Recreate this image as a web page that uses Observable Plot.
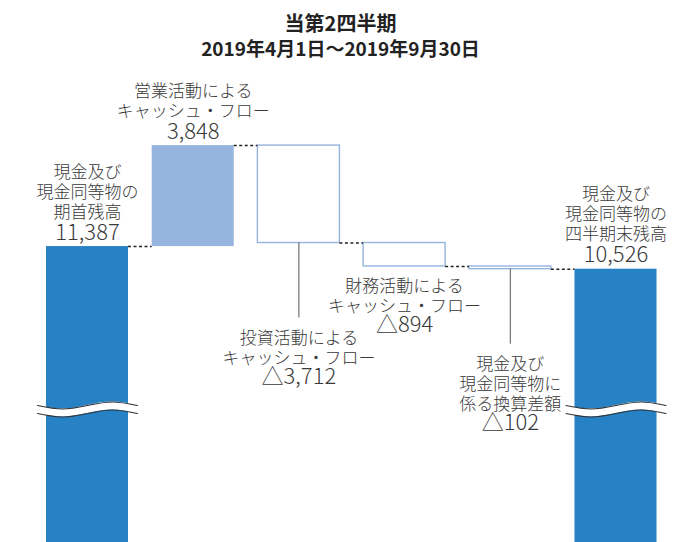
<!DOCTYPE html>
<html><head><meta charset="utf-8">
<script src="https://cdn.jsdelivr.net/npm/d3@7"></script>
<script src="https://cdn.jsdelivr.net/npm/@observablehq/plot@0.6"></script>
<style>
html,body{margin:0;padding:0;background:#fff;overflow:hidden;width:681px;height:542px;}
#title{font-family:"Noto Sans CJK JP",sans-serif;font-weight:700;color:#222;text-align:center;padding-top:10px;height:50px;}
#title .t1{font-size:20px;line-height:25px;}
#title .t2{font-size:19px;line-height:25px;}
#chart svg{overflow:hidden;display:block;}
</style></head><body>
<div id="title"><div class="t1" id="t1"></div><div class="t2" id="t2"></div></div>
<div id="chart"></div>
<script>
// ---- data ----
const titleText = "当第2四半期";
const subtitleText = "2019年4月1日～2019年9月30日";
const categories = ["期首残高", "営業CF", "投資CF", "財務CF", "換算差額", "四半期末残高"];
const labels = [
  "現金及び\n現金同等物の\n期首残高",
  "営業活動による\nキャッシュ・フロー",
  "投資活動による\nキャッシュ・フロー",
  "財務活動による\nキャッシュ・フロー",
  "現金及び\n現金同等物に\n係る換算差額",
  "現金及び\n現金同等物の\n四半期末残高"
];
const kinds = ["total", "delta", "delta", "delta", "delta", "total"];
const values = [11387, 3848, -3712, -894, -102, 10526];
const breakValue = 5180;

// ---- layout / style ----
const placement = ["above", "above", "leader", "below", "leader", "above"];
const W = 681, H = 482;
const yDomain = [0, 16000], yRange = [485, 65];
const ppu = (yRange[0] - yRange[1]) / (yDomain[1] - yDomain[0]);
const hw = 0.388;
const darkBlue = "#2681c5", lightBlue = "#95b4de", outline = "#95b4de";
const textColor = "#3a3a3a";
const font = "'Noto Sans CJK JP', sans-serif";

document.getElementById("t1").textContent = titleText;
document.getElementById("t2").textContent = subtitleText;

const fmt = d3.format(",");
let run = 0;
const rows = values.map((v, i) => {
  let lo, hi, end;
  if (kinds[i] === "total") { lo = 0; hi = v; end = v; }
  else { const s = run; end = s + v; lo = Math.min(s, end); hi = Math.max(s, end); }
  run = end;
  return {i, cat: categories[i], v, lo, hi, end, kind: kinds[i],
          label: labels[i], num: v < 0 ? "△" + fmt(-v) : fmt(v)};
});

const connectors = rows.slice(0, -1).map(r => ({level: r.end, x1: r.i + hw, x2: r.i + 1 - hw}));

const leaderPx = 75;
const leaders = rows.filter(r => placement[r.i] === "leader")
  .map(r => ({i: r.i, from: r.lo, to: r.lo - leaderPx / ppu}));

// break symbol (decoration)
const waveT = [0, 0.25, 0.5, 0.75, 1];
const waveS = [0, -1, 0, 1, 0];
const amp = 3.5 / ppu, gap = 4 / ppu, ext = 0.085;
const wave = [];
rows.filter(r => r.kind === "total").forEach(r => {
  waveT.forEach((t, k) => {
    const x = r.i - hw - ext + t * (2 * hw + 2 * ext);
    const c = breakValue + waveS[k] * amp;
    wave.push({bar: r.i, x, top: c + gap, bot: c - gap});
  });
});

const marks = [
  Plot.rectY(rows.filter(r => r.kind === "total"), {x1: r => r.i - hw, x2: r => r.i + hw, y1: "lo", y2: "hi", fill: darkBlue, clip: true}),
  Plot.rectY(rows.filter(r => r.kind === "delta" && r.v >= 0), {x1: r => r.i - hw, x2: r => r.i + hw, y1: "lo", y2: "hi", fill: lightBlue}),
  Plot.rectY(rows.filter(r => r.kind === "delta" && r.v < 0), {x1: r => r.i - hw, x2: r => r.i + hw, y1: "lo", y2: "hi", fill: "white", stroke: outline, strokeWidth: 1.4}),
  Plot.ruleY(connectors, {y: "level", x1: "x1", x2: "x2", stroke: "#222", strokeWidth: 1.5, strokeDasharray: "3,2.5"}),
  Plot.ruleX(leaders, {x: "i", y1: "from", y2: "to", stroke: "#555", strokeWidth: 1}),
  Plot.areaY(wave, {x: "x", y1: "bot", y2: "top", z: "bar", fill: "white", curve: "natural"}),
  Plot.line(wave, {x: "x", y: "top", z: "bar", stroke: "#333", strokeWidth: 1.1, curve: "natural"}),
  Plot.line(wave, {x: "x", y: "bot", z: "bar", stroke: "#333", strokeWidth: 1.1, curve: "natural"})
];

const LH = 20, labelSize = 17, numSize = 22, numGap = 21;
rows.forEach(r => {
  const p = placement[r.i];
  const n = r.label.split("\n").length;
  if (p === "above") {
    marks.push(Plot.text([r], {x: "i", y: "hi", text: "label", lineAnchor: "bottom", dy: -14 - numGap + 6,
      fontSize: labelSize, lineHeight: LH / labelSize, fill: textColor, fontWeight: 300}));
    marks.push(Plot.text([r], {x: "i", y: "hi", text: "num", lineAnchor: "middle", dy: -14,
      fontSize: numSize, fill: textColor, fontWeight: 300}));
  } else {
    const first = p === "leader" ? leaderPx + 18 : 17;
    marks.push(Plot.text([r], {x: "i", y: "lo", text: "label", lineAnchor: "top", dy: first - 6,
      fontSize: labelSize, lineHeight: LH / labelSize, fill: textColor, fontWeight: 300}));
    marks.push(Plot.text([r], {x: "i", y: "lo", text: "num", lineAnchor: "middle", dy: first + (n - 1) * LH + numGap,
      fontSize: numSize, fill: textColor, fontWeight: 300}));
  }
});

const chart = Plot.plot({
  width: W, height: H,
  marginTop: 0, marginBottom: 0, marginLeft: 0, marginRight: 0,
  x: {type: "linear", domain: [-0.5, 5.5], range: [34.15, 668.35], axis: null},
  y: {type: "linear", domain: yDomain, range: yRange, axis: null},
  style: {fontFamily: font, background: "white", overflow: "hidden"},
  marks
});
document.getElementById("chart").appendChild(chart);
</script>
</body></html>
